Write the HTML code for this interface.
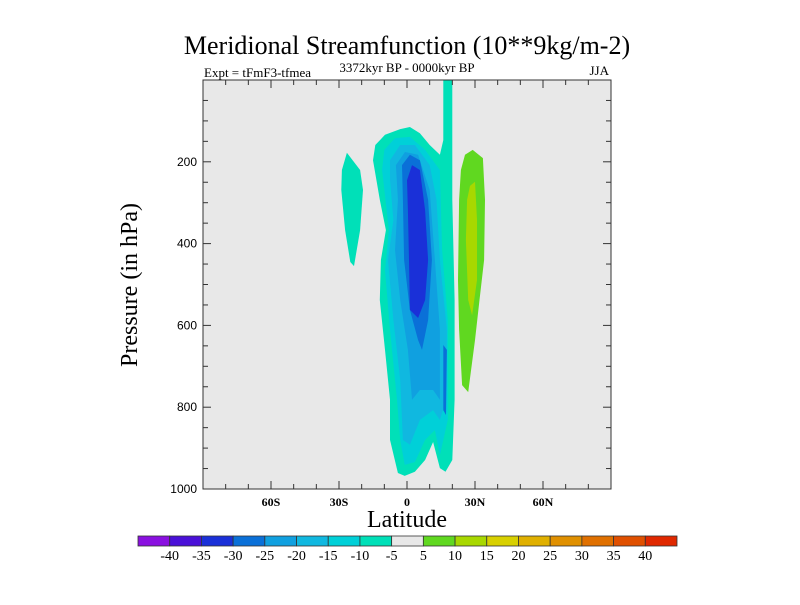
<!DOCTYPE html>
<html><head><meta charset="utf-8"><style>
body{margin:0;background:#fff}
svg text{font-family:"Liberation Serif",serif}
</style></head><body>
<svg id="c" width="800" height="600" xmlns="http://www.w3.org/2000/svg">
<text x="407" y="54" font-size="26" text-anchor="middle">Meridional Streamfunction (10**9kg/m-2)</text>
<text x="204" y="77" font-size="13">Expt = tFmF3-tfmea</text>
<text x="407" y="72" font-size="13" text-anchor="middle">3372kyr BP - 0000kyr BP</text>
<text x="609" y="75" font-size="13" text-anchor="end">JJA</text>
<rect x="203" y="80" width="408" height="409" fill="#e8e8e8"/>
<g id="fills"></g>
<g id="axes"></g>
<text x="407" y="527" font-size="24" text-anchor="middle">Latitude</text>
<text transform="translate(137,285) rotate(-90)" font-size="24" text-anchor="middle">Pressure (in hPa)</text>
<g id="cbar"></g>
</svg>
<script>
const latMin=-90, latMax=90, pMin=0, pMax=1000;
const X0=203, X1=611, Y0=80, Y1=489;
function sx(lat){return X0+(lat-latMin)/(latMax-latMin)*(X1-X0);}
function sy(p){return Y0+(p-pMin)/(pMax-pMin)*(Y1-Y0);}
const NS="http://www.w3.org/2000/svg";
const levels=[-40,-35,-30,-25,-20,-15,-10,-5,5,10,15,20,25,30,35,40];
const colors=["#8a10e0","#4a10d8","#1a30d8","#0a70d8","#10a0e0","#10b8e0","#00d0d8","#00e0b8","#e8e8e8","#60d820","#a8d800","#d8d000","#e0b000","#e09000","#e07000","#e05000","#e02800"];
// contour regions: [colorIndex, lats, pressures]
const regionLevels=[7,6,5,4,3,2,3,7,9,10];
const regionLats=[
[16,20,20,21,21,20,17,14.5,11.5,8,3.5,-1,-4,-7.5,-7.5,-9.7,-12,-11.5,-9.3,-12,-15,-14,-9.7,-3,1.3,5.7,10,14.5,16],
[-10,-5.3,1.3,8,14.5,15.5,18,18,14.5,12.3,8,3.5,-1,-3,-4.4,-7.5,-9.7,-8,-11],
[-7.5,-3,3.5,10,13,14.5,17.6,17.2,14.5,11.5,5.7,1.3,-1.8,-3,-6,-8.4,-6,-7.5],
[-4.9,-0.9,4.9,10,12.3,14.5,14.5,11.5,5.7,2.2,0.4,-3,-5.3,-4],
[-2.2,1.3,5.7,9.3,11,9.3,6.6,4.9,1.3,-1.3,-1.8],
[0,2.2,5.7,8,9.3,8,4.9,1.3,0.9,0.4],
[16,17.6,17.2,16],
[-26.5,-20.7,-19.4,-20.7,-23.4,-25,-27.3,-29,-28.7],
[25.6,29,33.5,34.4,34,32,30,27,24.3,23,22.5,23,23.8],
[27.8,30,30.9,30.9,28.7,27,26,26.5]];
const regionPs=[
[0,0,293,538,782,929,958,949,885,929,958,968,961,880,782,660,538,440,367,293,196,159,134,120,115,130,159,183,147],
[171,142,139,171,220,416,587,831,917,856,880,934,941,880,782,611,465,367,220],
[196,159,159,208,293,440,611,782,831,807,831,892,880,733,587,440,342,244],
[208,176,183,269,440,611,782,758,758,782,660,538,416,293],
[208,183,196,293,440,587,660,636,562,440,293],
[245,208,220,318,440,538,582,562,440,318],
[648,660,819,807],
[178,220,269,367,455,445,367,269,220],
[183,171,191,293,440,538,636,763,746,611,489,293,220],
[259,249,342,489,575,538,391,293]];
const fills=document.getElementById('fills');
regionLats.forEach((lats,i)=>{
  const pts=lats.map((l,j)=>sx(l).toFixed(1)+','+sy(regionPs[i][j]).toFixed(1)).join(' ');
  const pg=document.createElementNS(NS,'polygon');
  pg.setAttribute('points',pts);
  pg.setAttribute('fill',colors[regionLevels[i]]);
  
  
  fills.appendChild(pg);
});
const axes=document.getElementById('axes');
function el(tag,attrs,parent){const e=document.createElementNS(NS,tag);for(const k in attrs)e.setAttribute(k,attrs[k]);parent.appendChild(e);return e;}
const frame=el('rect',{x:X0,y:Y0,width:X1-X0,height:Y1-Y0,fill:'none',stroke:'#333','stroke-width':1},axes);


const xLabels={'-60':'60S','-30':'30S','0':'0','30':'30N','60':'60N'};
for(let lat=-80;lat<=80;lat+=10){
  const major=lat%30===0, L=major?8:5, x=sx(lat);
  el('line',{x1:x,y1:Y1,x2:x,y2:Y1-L,stroke:'#333'},axes);
  el('line',{x1:x,y1:Y0,x2:x,y2:Y0+L,stroke:'#333'},axes);
  if(xLabels[lat]!==undefined){
    const t=el('text',{x:x,y:Y1+17,'font-size':12,'font-weight':'bold','text-anchor':'middle'},axes);
    t.textContent=xLabels[lat];
    
    
  }
}
for(let p=50;p<=1000;p+=50){
  const major=p%200===0, L=major?8:5, y=sy(p);
  el('line',{x1:X0,y1:y,x2:X0+L,y2:y,stroke:'#333'},axes);
  el('line',{x1:X1,y1:y,x2:X1-L,y2:y,stroke:'#333'},axes);
  if(major){
    const t=el('text',{x:X0-6,y:y+4,'font-size':12,'text-anchor':'end','style':'font-family:"Liberation Sans",sans-serif'},axes);
    t.textContent=p;
    
    
  }
}
const cb=document.getElementById('cbar');
const cbX0=138, cbX1=677, bw=(cbX1-cbX0)/colors.length;
colors.forEach((c,i)=>{
  const r=el('rect',{x:cbX0+i*bw,y:536,width:bw,height:10,fill:c,stroke:'#333','stroke-width':0.8},cb);
  
  
});
levels.forEach((v,i)=>{
  const t=el('text',{x:cbX0+(i+1)*bw,y:560,'font-size':14,'text-anchor':'middle'},cb);
  t.textContent=v;
  
  
});
</script>
</body></html>
